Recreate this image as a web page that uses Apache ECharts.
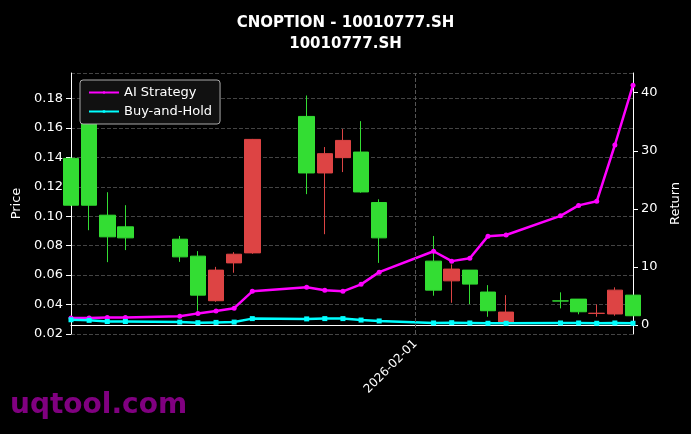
<!DOCTYPE html>
<html>
<head>
<meta charset="utf-8">
<script src="https://cdn.jsdelivr.net/npm/echarts@6/dist/echarts.min.js"></script>
<style>
  html, body { margin: 0; padding: 0; background: #000; }
  #chart { width: 691px; height: 434px; }
</style>
</head>
<body>
<div id="chart"></div>
<script>
var dates = [
    '2026-01-13', '2026-01-14', '2026-01-15', '2026-01-16',
    '2026-01-19', '2026-01-20', '2026-01-21', '2026-01-22', '2026-01-23',
    '2026-01-26', '2026-01-27', '2026-01-28', '2026-01-29', '2026-01-30',
    '2026-02-02', '2026-02-03', '2026-02-04', '2026-02-05', '2026-02-06',
    '2026-02-09', '2026-02-10', '2026-02-11', '2026-02-12', '2026-02-13'
];
// [open, close, low, high]
var ohlc = [
    [0.1075, 0.1393, 0.1070, 0.1400],
    [0.1075, 0.1685, 0.0905, 0.1900],
    [0.0860, 0.1007, 0.0688, 0.1163],
    [0.0853, 0.0928, 0.0770, 0.1075],
    [0.0724, 0.0844, 0.0690, 0.0866],
    [0.0464, 0.0729, 0.0358, 0.0763],
    [0.0634, 0.0426, 0.0419, 0.0656],
    [0.0742, 0.0683, 0.0616, 0.0756],
    [0.1522, 0.0751, 0.0745, 0.1525],
    [0.1294, 0.1678, 0.1150, 0.1820],
    [0.1425, 0.1294, 0.0878, 0.1470],
    [0.1515, 0.1398, 0.1300, 0.1592],
    [0.1165, 0.1436, 0.1160, 0.1646],
    [0.0853, 0.1093, 0.0683, 0.1115],
    [0.0498, 0.0695, 0.0460, 0.0866],
    [0.0641, 0.0561, 0.0412, 0.0673],
    [0.0539, 0.0634, 0.0403, 0.0634],
    [0.0358, 0.0485, 0.0317, 0.0532],
    [0.0349, 0.0273, 0.0270, 0.0464],
    [0.0424, 0.0425, 0.0374, 0.0483],
    [0.0351, 0.0437, 0.0334, 0.0437],
    [0.0341, 0.0340, 0.0317, 0.0401],
    [0.0498, 0.0336, 0.0324, 0.0517],
    [0.0324, 0.0464, 0.0324, 0.0464]
];
var aiReturn = [1.2, 1.2, 1.3, 1.3, 1.5, 2.0, 2.4, 2.9, 5.8, 6.5, 6.0, 5.8, 7.0, 9.1,
    12.7, 11.0, 11.5, 15.3, 15.5, 18.8, 20.6, 21.3, 31.0, 41.3];
var bhReturn = [0.9, 0.8, 0.6, 0.6, 0.5, 0.4, 0.45, 0.5, 1.1, 1.05, 1.1, 1.1, 0.85, 0.7,
    0.35, 0.4, 0.35, 0.3, 0.3, 0.35, 0.35, 0.3, 0.35, 0.3];
var labelDate = '2026-02-01';

var chart = echarts.init(document.getElementById('chart'));
var font = 'DejaVu Sans';

function ts(d) { return +new Date(d + 'T00:00:00'); }
function fmtDate(v) {
    var d = new Date(v);
    var m = d.getMonth() + 1, day = d.getDate();
    return d.getFullYear() + '-' + (m < 10 ? '0' : '') + m + '-' + (day < 10 ? '0' : '') + day;
}

chart.setOption({
    backgroundColor: '#000',
    animation: false,
    textStyle: { fontFamily: font },
    title: {
        text: 'CNOPTION - 10010777.SH\n10010777.SH',
        left: 'center',
        top: 8,
        textStyle: { color: '#fff', fontSize: 15, fontWeight: 'bold', lineHeight: 21, fontFamily: font }
    },
    legend: {
        left: 80, top: 80, orient: 'vertical', itemGap: 6,
        padding: [6, 8], borderColor: '#aaa', borderWidth: 1, borderRadius: 3,
        backgroundColor: '#111',
        itemWidth: 30, itemHeight: 3,
        textStyle: { color: '#fff', fontSize: 13 },
        data: ['AI Strategy', 'Buy-and-Hold']
    },
    grid: { left: 71, right: 58, top: 73, bottom: 100 },
    xAxis: {
        type: 'time',
        min: ts(dates[0]),
        max: ts(dates[dates.length - 1]),
        minInterval: 86400000,
        maxInterval: 86400000,
        axisLine: { lineStyle: { color: '#fff' } },
        axisTick: { show: false },
        axisLabel: {
            interval: 0, hideOverlap: false, showMinLabel: false, showMaxLabel: false,
            formatter: function (v) { return fmtDate(v) === labelDate ? labelDate : ''; },
            rotate: 45, color: '#fff', fontSize: 12
        },
        splitLine: { show: false }
    },
    yAxis: [{
        type: 'value', name: 'Price', nameLocation: 'middle', nameGap: 42,
        nameTextStyle: { color: '#fff', fontSize: 13 },
        min: 0.02, max: 0.1973, interval: 0.02,
        axisLine: { show: true, lineStyle: { color: '#fff' } },
        axisTick: { show: true },
        axisLabel: { color: '#fff', fontSize: 13, showMaxLabel: false, formatter: function (v) { return v.toFixed(2); } },
        splitLine: { lineStyle: { color: '#444', type: 'dashed' } }
    }, {
        type: 'value', name: 'Return', nameLocation: 'middle', nameGap: 36,
        nameTextStyle: { color: '#fff', fontSize: 13 },
        min: -1.55, max: 43.4,
        axisLine: { show: true, lineStyle: { color: '#fff' } },
        axisTick: { show: true, customValues: [0, 10, 20, 30, 40] },
        axisLabel: { color: '#fff', fontSize: 13, customValues: [0, 10, 20, 30, 40] },
        splitLine: { show: false }
    }],
    series: [{
        type: 'candlestick',
        barWidth: 16,
        data: dates.map(function (d, i) { return [ts(d)].concat(ohlc[i]); }),
        itemStyle: {
            color: '#33dd33', color0: '#dd4444',
            borderColor: '#33dd33', borderColor0: '#dd4444', borderWidth: 1
        },
        markLine: {
            silent: true, symbol: 'none', label: { show: false },
            lineStyle: { color: '#555', type: 'dashed', width: 1 },
            data: [{ xAxis: ts(labelDate) }]
        }
    }, {
        name: 'AI Strategy', type: 'line', yAxisIndex: 1,
        data: dates.map(function (d, i) { return [ts(d), aiReturn[i]]; }),
        symbol: 'circle', symbolSize: 5,
        itemStyle: { color: '#ff00ff' }, lineStyle: { color: '#ff00ff', width: 2.5 }
    }, {
        name: 'Buy-and-Hold', type: 'line', yAxisIndex: 1,
        data: dates.map(function (d, i) { return [ts(d), bhReturn[i]]; }),
        symbol: 'rect', symbolSize: 5,
        itemStyle: { color: '#00ffff' }, lineStyle: { color: '#00ffff', width: 2.5 }
    }],
    graphic: [{
        type: 'text', left: 10, top: 392,
        style: { text: 'uqtool.com', fill: '#800080', font: 'bold 28px DejaVu Sans' }
    }]
});
</script>
</body>
</html>
